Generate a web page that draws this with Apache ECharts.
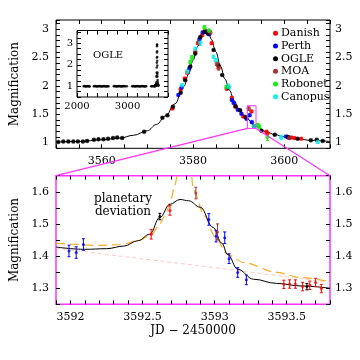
<!DOCTYPE html>
<html>
<head>
<meta charset="utf-8">
<script src="https://cdn.jsdelivr.net/npm/echarts@6/dist/echarts.min.js"></script>
<style>
  html, body { margin: 0; padding: 0; background: #fff; }
  #main { width: 360px; height: 360px; }
</style>
</head>
<body>
<div id="main"></div>
<script>
// ---- data: [JD-2450000, magnification, error] ----
var danishTop = [[3575.5,1.60,0.015],[3577.3,1.94,0.015],[3578.2,2.13,0.015],[3578.7,2.23,0.015],[3580.5,2.60,0.02],[3581.1,2.75,0.02],[3582.0,2.89,0.02],[3582.7,2.97,0.02],[3583.3,2.92,0.02],[3584.1,2.75,0.02],[3585.6,2.34,0.02],[3587.4,1.95,0.02],[3588.5,1.79,0.015],[3589.3,1.63,0.015],[3591.0,1.46,0.015],[3592.8,1.55,0.02],[3596.1,1.19,0.02],[3596.3,1.16,0.015],[3601.5,1.09,0.015],[3602.2,1.08,0.015],[3603.7,1.07,0.015]];
var perthTop = [[3576.8,1.84,0.015],[3577.5,1.97,0.015],[3579.2,2.31,0.015],[3581.4,2.82,0.02],[3582.1,2.94,0.02],[3583.0,2.95,0.02],[3583.5,2.91,0.02],[3588.5,1.75,0.015],[3588.9,1.70,0.015],[3589.8,1.58,0.015],[3590.6,1.51,0.015],[3591.7,1.42,0.015],[3592.4,1.48,0.02],[3592.9,1.36,0.02],[3600.4,1.11,0.015],[3600.9,1.09,0.015]];
var ogleTop = [[3550.5,1.01,0.01],[3551.6,1.02,0.01],[3552.7,1.02,0.01],[3553.8,1.02,0.01],[3554.8,1.02,0.01],[3555.9,1.02,0.01],[3556.8,1.03,0.01],[3558.3,1.05,0.01],[3559.3,1.06,0.01],[3560.4,1.06,0.01],[3561.4,1.07,0.01],[3562.5,1.08,0.01],[3563.4,1.09,0.01],[3564.5,1.08,0.01],[3569.3,1.19,0.01],[3573.3,1.44,0.01],[3574.4,1.48,0.01],[3575.6,1.63,0.01],[3577.3,1.88,0.01],[3578.3,2.10,0.01],[3579.4,2.34,0.01],[3580.5,2.57,0.01],[3581.6,2.86,0.01],[3582.5,2.95,0.01],[3583.4,2.92,0.01],[3584.5,2.63,0.01],[3585.6,2.36,0.01],[3586.4,2.19,0.01],[3587.7,1.97,0.01],[3589.3,1.64,0.01],[3590.3,1.57,0.01],[3591.5,1.45,0.01],[3593.4,1.29,0.01],[3595.0,1.21,0.01],[3597.9,1.14,0.01],[3600.8,1.10,0.01],[3602.9,1.07,0.01],[3605.8,1.04,0.01],[3607.1,1.05,0.01],[3608.4,1.03,0.01]];
var moaTop = [[3581.2,2.76,0.03],[3583.8,2.94,0.03],[3585.2,2.39,0.03],[3585.6,2.31,0.03],[3592.2,1.60,0.03],[3601.1,1.08,0.02]];
var robonetTop = [[3579.4,2.42,0.03],[3579.8,2.50,0.03],[3582.5,3.03,0.03],[3583.5,2.97,0.03],[3587.3,1.98,0.03],[3594.2,1.31,0.03],[3594.5,1.28,0.03],[3596.3,1.10,0.06]];
var canopusTop = [[3577.6,2.01,0.03],[3578.7,2.25,0.03],[3580.5,2.65,0.03],[3581.6,2.76,0.05],[3584.5,2.51,0.03],[3585.0,2.45,0.03],[3587.9,1.98,0.05],[3593.4,1.29,0.03],[3599.3,1.09,0.04],[3607.3,1.01,0.02]];

var modelTop = [[3550,1.01],[3555,1.02],[3560,1.05],[3564,1.08],[3567,1.13],[3570,1.21],[3572,1.32],[3574,1.47],[3576,1.68],[3578,1.99],[3579,2.2],[3580,2.45],[3581,2.69],[3582,2.9],[3582.8,2.97],[3583.5,2.92],[3584,2.82],[3585,2.6],[3586,2.35],[3587,2.12],[3588,1.92],[3589,1.74],[3590,1.6],[3591,1.49],[3592,1.42],[3593,1.33],[3594,1.28],[3596,1.19],[3598,1.14],[3600,1.1],[3603,1.06],[3606,1.04],[3610,1.02]];

// zoomed planetary deviation
var danishZoom = [[3592.56,1.468,0.015],[3592.69,1.542,0.015],[3593.48,1.312,0.013],[3593.52,1.313,0.013],[3593.56,1.313,0.013],[3593.61,1.305,0.013],[3593.66,1.309,0.013],[3593.70,1.318,0.013],[3593.74,1.299,0.013]];
var perthZoom = [[3591.99,1.416,0.018],[3592.04,1.411,0.018],[3592.09,1.436,0.018],[3592.96,1.514,0.018],[3593.01,1.462,0.018],[3593.07,1.457,0.018],[3593.10,1.392,0.015],[3593.16,1.349,0.015],[3593.22,1.326,0.015]];
var ogleZoom = [[3592.62,1.523,0.01],[3593.64,1.305,0.01]];
var moaZoom = [[3592.87,1.596,0.018],[3593.02,1.475,0.025]];
var modelZoom = [[3591.9,1.428],[3592.1,1.421],[3592.25,1.423],[3592.37,1.431],[3592.47,1.448],[3592.55,1.468],[3592.62,1.52],[3592.69,1.561],[3592.76,1.576],[3592.82,1.572],[3592.9,1.552],[3592.99,1.489],[3593.05,1.44],[3593.09,1.405],[3593.16,1.359],[3593.27,1.328],[3593.43,1.315],[3593.6,1.307],[3593.8,1.3]];
var binaryZoom = [[3591.9,1.44],[3592.0,1.437],[3592.2,1.433],[3592.35,1.436],[3592.47,1.448],[3592.56,1.466],[3592.62,1.5],[3592.66,1.53],[3592.69,1.565],[3592.72,1.61],[3592.745,1.66],[3592.76,1.75],[3592.82,1.75],[3592.84,1.65],[3592.85,1.608],[3592.93,1.525],[3593.0,1.462],[3593.09,1.405],[3593.2,1.38],[3593.43,1.349],[3593.6,1.333],[3593.8,1.32]];
var singleZoom = [[3591.9,1.425],[3592.25,1.405],[3593.0,1.364],[3593.8,1.318]];

// OGLE long-term baseline (inset)
var ogleBaseline = [[2132,1.0],[2146,1.01],[2160,1.0],[2173,0.99],[2188,1.0],[2201,1.0],[2215,1.01],[2229,1.0],[2240,1.0],[2251,0.99],
  [2333,1.0],[2349,1.0],[2362,1.01],[2380,1.0],[2394,0.99],[2410,1.0],[2425,1.0],[2441,1.01],[2455,1.0],[2470,1.0],[2487,0.99],[2502,1.0],[2518,1.0],[2531,1.01],[2548,1.0],[2563,1.0],[2579,0.99],[2594,1.0],[2610,1.0],[2624,1.0],
  [2726,1.0],[2741,1.01],[2755,1.0],[2770,1.0],[2786,0.99],[2801,1.0],[2817,1.0],[2832,1.01],[2848,1.0],[2863,1.0],[2879,0.99],[2894,1.0],[2910,1.0],[2925,1.01],[2941,1.0],[2956,1.0],[2988,1.0],
  [3090,1.0],[3105,1.0],[3121,1.01],[3136,1.0],[3152,0.99],[3167,1.0],[3183,1.0],[3198,1.01],[3214,1.0],[3229,1.0],[3245,0.99],[3260,1.0],[3276,1.0],[3291,1.01],[3307,1.0],[3322,1.0],[3338,0.99],[3353,1.0],[3369,1.0],
  [3466,1.0],[3481,1.0],[3497,1.01],[3512,1.0],[3528,0.99],[3543,1.0],[3556,1.02]];

var names = ['Danish', 'Perth', 'OGLE', 'MOA', 'Robonet', 'Canopus'];
var colors = ['#ff0000', '#0000ff', '#000000', '#a83232', '#11ee11', '#11eeee'];
var topSets = [danishTop, perthTop, ogleTop, moaTop, robonetTop, canopusTop];
var zoomSets = [danishZoom, perthZoom, ogleZoom, moaZoom, [], []];

var FONT = 'DejaVu Serif';
var MAGENTA = '#ff33ff';

function fmtEvery(step, dec) {
  return function (v) {
    var r = Math.round(v / step);
    if (Math.abs(v / step - r) > 1e-6) return '';
    return String(+(r * step).toFixed(dec));
  };
}

function errSeries(name, data, color, gi) {
  return {
    type: 'custom', name: name, xAxisIndex: gi * 2, yAxisIndex: gi * 2,
    clip: true, silent: true, z: 3,
    data: data,
    renderItem: function (params, api) {
      var x = api.value(0), y = api.value(1), e = api.value(2);
      var lo = api.coord([x, y - e]), hi = api.coord([x, y + e]);
      var c = 1.5;
      return { type: 'group', children: [
        { type: 'line', shape: { x1: lo[0], y1: lo[1], x2: hi[0], y2: hi[1] }, style: { stroke: color, lineWidth: 1 } },
        { type: 'line', shape: { x1: lo[0] - c, y1: lo[1], x2: lo[0] + c, y2: lo[1] }, style: { stroke: color, lineWidth: 1 } },
        { type: 'line', shape: { x1: hi[0] - c, y1: hi[1], x2: hi[0] + c, y2: hi[1] }, style: { stroke: color, lineWidth: 1 } }
      ]};
    }
  };
}

function ax(gi, pos, min, max, interval, showLabel, fmt, extra) {
  var a = {
    type: 'value', gridIndex: gi, position: pos, min: min, max: max, interval: interval,
    axisLine: { show: false }, splitLine: { show: false },
    axisTick: { show: true, inside: true, length: 4, lineStyle: { color: '#000' } },
    axisLabel: { show: showLabel, formatter: fmt, color: '#000', fontFamily: FONT, fontSize: 11, margin: 7 }
  };
  return Object.assign(a, extra || {});
}

var chart = echarts.init(document.getElementById('main'), null, { renderer: 'canvas' });

var series = [];
// top panel model
series.push({ type: 'line', xAxisIndex: 0, yAxisIndex: 0, data: modelTop, showSymbol: false, smooth: 0.4, smoothMonotone: 'x',
  lineStyle: { color: '#000', width: 1 }, silent: true, z: 2 });
// zoom panel models
series.push({ type: 'line', xAxisIndex: 2, yAxisIndex: 2, data: singleZoom, showSymbol: false, smooth: 0.4,
  lineStyle: { color: '#ffc8c8', width: 1, type: [4, 3] }, silent: true, z: 1 });
series.push({ type: 'line', xAxisIndex: 2, yAxisIndex: 2, data: binaryZoom, showSymbol: false, smooth: 0.3, smoothMonotone: 'x',
  lineStyle: { color: '#ffaa22', width: 1.2, type: [9, 5] }, silent: true, z: 2 });
series.push({ type: 'line', xAxisIndex: 2, yAxisIndex: 2, data: modelZoom, showSymbol: false, smooth: 0.4, smoothMonotone: 'x',
  lineStyle: { color: '#000', width: 1 }, silent: true, z: 2 });

names.forEach(function (n, i) {
  series.push(errSeries(n, topSets[i], colors[i], 0));
  series.push({ type: 'scatter', name: n, xAxisIndex: 0, yAxisIndex: 0, data: topSets[i], symbol: 'circle', symbolSize: 4.5,
    itemStyle: { color: colors[i] }, z: 4 });
  if (zoomSets[i].length) {
    series.push(errSeries(n, zoomSets[i], colors[i], 1));
    series.push({ type: 'scatter', name: n, xAxisIndex: 2, yAxisIndex: 2, data: zoomSets[i], symbol: 'circle', symbolSize: 3,
      itemStyle: { color: colors[i] }, z: 4 });
  }
});
// inset: OGLE full light curve
series.push({ type: 'scatter', xAxisIndex: 4, yAxisIndex: 4, data: ogleBaseline.concat(ogleTop.map(function (d) { return [d[0], d[1]]; })),
  symbol: 'circle', symbolSize: 2.5, itemStyle: { color: '#000' }, silent: true, z: 12 });

var nameStyle = { fontFamily: FONT, fontSize: 12, color: '#000' };

chart.setOption({
  animation: false,
  backgroundColor: '#fff',
  textStyle: { fontFamily: FONT },
  grid: [
    { left: 56, right: 30, top: 20, height: 128.3, show: true, borderColor: '#000', borderWidth: 1, backgroundColor: 'transparent' },
    { left: 56, right: 30, top: 175.7, height: 128.6, show: true, borderColor: MAGENTA, borderWidth: 1.5, backgroundColor: 'transparent' },
    { left: 77, top: 30.5, width: 91, height: 66.5, show: true, borderColor: '#000', borderWidth: 1, backgroundColor: '#fff', z: 10 }
  ],
  legend: {
    data: names.map(function (n, i) { return { name: n, itemStyle: { color: colors[i] } }; }),
    orient: 'vertical', left: 273, top: 27.5, itemWidth: 5, itemHeight: 5, itemGap: 1.2, icon: 'circle',
    padding: 0,
    textStyle: { fontFamily: FONT, fontSize: 11, color: '#000', lineHeight: 11.5, padding: [0, 0, 0, -2] },
    selectedMode: false
  },
  xAxis: [
    ax(0, 'bottom', 3550, 3610, 5, true, fmtEvery(20, 0)),
    ax(0, 'top', 3550, 3610, 5, false),
    ax(1, 'bottom', 3591.9, 3593.8, 0.1, true, fmtEvery(0.5, 1), {
      name: 'JD \u2212 2450000', nameLocation: 'middle', nameGap: 21, nameTextStyle: nameStyle }),
    ax(1, 'top', 3591.9, 3593.8, 0.1, false),
    ax(2, 'bottom', 2000, 3800, 200, true, function (v) { return (v === 2000 || v === 3000) ? String(v) : ''; }, {
      z: 11, axisLabel: { formatter: function (v) { return (v === 2000 || v === 3000) ? String(v) : ''; }, color: '#000', fontFamily: FONT, fontSize: 10, margin: 4 } }),
    ax(2, 'top', 2000, 3800, 200, false, null, { z: 11 })
  ],
  yAxis: [
    ax(0, 'left', 0.9, 3.16, 0.1, true, fmtEvery(0.5, 1), {
      name: 'Magnification', nameLocation: 'middle', nameGap: 31, nameRotate: 90, nameTextStyle: nameStyle }),
    ax(0, 'right', 0.9, 3.16, 0.1, true, fmtEvery(0.5, 1), {
      axisLabel: { formatter: fmtEvery(0.5, 1), color: '#000', fontFamily: FONT, fontSize: 11, margin: 5 } }),
    ax(1, 'left', 1.25, 1.65, 0.05, true, fmtEvery(0.1, 1), {
      name: 'Magnification', nameLocation: 'middle', nameGap: 31, nameRotate: 90, nameTextStyle: nameStyle }),
    ax(1, 'right', 1.25, 1.65, 0.05, true, fmtEvery(0.1, 1), {
      axisLabel: { formatter: fmtEvery(0.1, 1), color: '#000', fontFamily: FONT, fontSize: 11, margin: 5 } }),
    ax(2, 'left', 0.5, 3.6, 0.25, true, fmtEvery(1, 0), {
      z: 11, axisLabel: { formatter: fmtEvery(1, 0), color: '#000', fontFamily: FONT, fontSize: 10, margin: 4 } }),
    ax(2, 'right', 0.5, 3.6, 0.25, false, null, { z: 11 })
  ],
  series: series
});

// zoom box in the top panel and connecting lines, from data coordinates
var zx0 = 3591.9, zx1 = 3593.8, zy0 = 1.25, zy1 = 1.65;
var p0 = chart.convertToPixel({ gridIndex: 0 }, [zx0, zy1]);
var p1 = chart.convertToPixel({ gridIndex: 0 }, [zx1, zy0]);
var q0 = chart.convertToPixel({ gridIndex: 1 }, [zx0, zy1]);
var q1 = chart.convertToPixel({ gridIndex: 1 }, [zx1, zy1]);
chart.setOption({
  graphic: [
    { type: 'rect', shape: { x: p0[0], y: p0[1], width: p1[0] - p0[0], height: p1[1] - p0[1] }, style: { fill: 'none', stroke: MAGENTA, lineWidth: 1 }, z: 20 },
    { type: 'line', shape: { x1: p0[0], y1: p1[1], x2: q0[0], y2: q0[1] }, style: { stroke: MAGENTA, lineWidth: 1.2 }, z: 20 },
    { type: 'line', shape: { x1: p1[0], y1: p1[1], x2: q1[0], y2: q1[1] }, style: { stroke: MAGENTA, lineWidth: 1.2 }, z: 20 },
    { type: 'text', left: 93, top: 50, z: 30, style: { text: 'OGLE', fontFamily: FONT, fontSize: 10, fill: '#000' } },
    { type: 'text', x: 123, y: 192, z: 30, style: { text: 'planetary\ndeviation', fontFamily: FONT, fontSize: 12, lineHeight: 13, fill: '#000', align: 'center' } }
  ]
});
</script>
</body>
</html>
